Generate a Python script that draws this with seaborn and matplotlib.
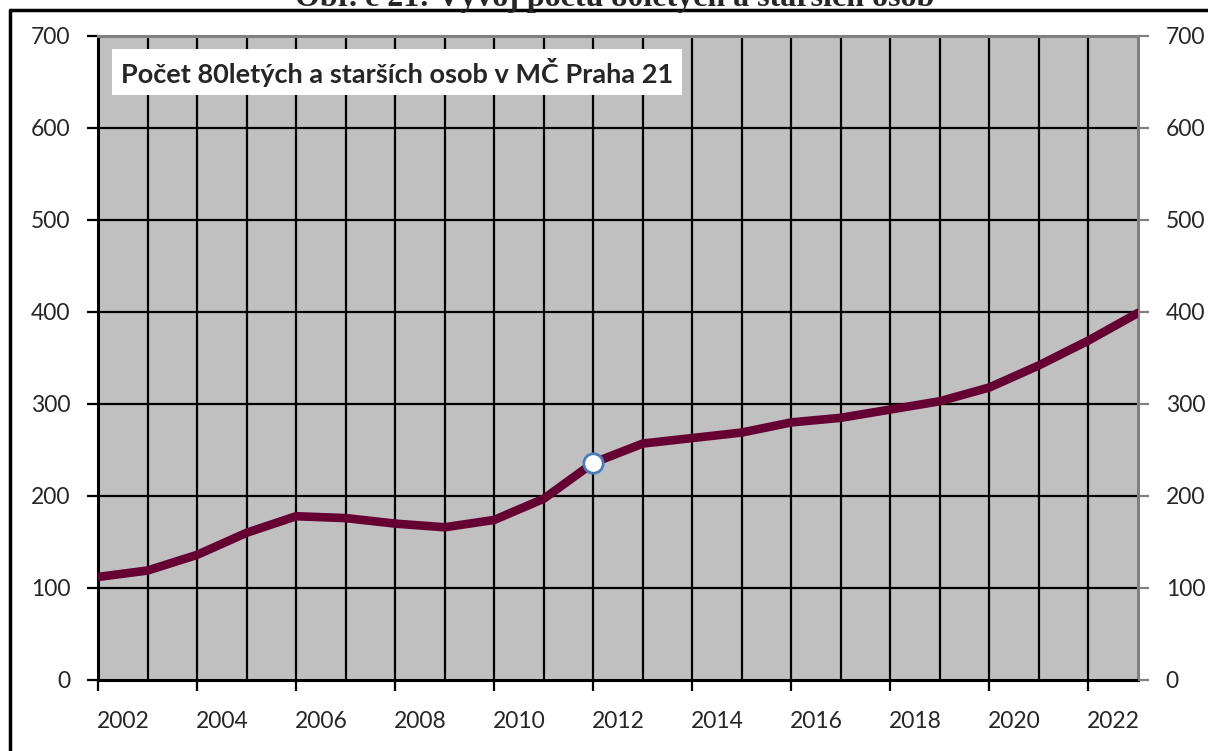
import matplotlib.pyplot as plt
from matplotlib.lines import Line2D
import seaborn as sns
import pandas as pd

years = list(range(2002, 2024))
persons = [112, 119, 136, 160, 178, 176, 170, 166, 174, 197, 236,
           257, 263, 269, 280, 285, 294, 303, 318, 342, 369, 399]
highlight_year = 2012
y_ticks = [0, 100, 200, 300, 400, 500, 600, 700]
label_years = list(range(2002, 2023, 2))

title = "Obr. č 21: Vývoj počtu 80letých a starších osob"
box_text = "Počet 80letých a starších osob v MČ Praha 21"

sns.set_style('white')
plt.rcParams['font.family'] = ['Lato', 'DejaVu Sans']

df = pd.DataFrame({"rok": years, "osoby": persons})

fig = plt.figure(figsize=(12.08, 7.51), dpi=100)
ax = fig.add_axes([98 / 1208, 71 / 751, 1040 / 1208, 644 / 751])
ax.set_facecolor('#C0C0C0')

# grid
for yr in years[1:-1]:
    ax.axvline(yr, color='black', lw=1.6, zorder=1)
for v in y_ticks[1:]:
    ax.axhline(v, color='black', lw=1.6, zorder=1)

sns.lineplot(data=df, x='rok', y='osoby', color='#660033', lw=6.2,
             ax=ax, zorder=3, solid_joinstyle='miter')
hl = df[df['rok'] == highlight_year]
ax.plot(hl['rok'], hl['osoby'], 'o', ms=14, mfc='white', mec='#4A7EBB',
        mew=2, zorder=4)

ax.set_xlim(years[0], years[-1])
ax.set_ylim(0, 700)
ax.set_xlabel('')
ax.set_ylabel('')

# x axis: tick marks on even years, labels between
ax.set_xticks(label_years)
ax.set_xticklabels([])
ax.set_xticks([y + 0.5 for y in label_years], minor=True)
ax.set_xticklabels([str(y) for y in label_years], minor=True, fontsize=16.5)
ax.tick_params(axis='x', which='major', direction='out', length=8, width=1.6,
               color='black', bottom=True)
ax.tick_params(axis='x', which='minor', length=0, pad=22)

ax.set_yticks(y_ticks)
ax.set_yticklabels([str(v) for v in y_ticks], fontsize=16.5)
ax.tick_params(axis='y', direction='out', length=8, width=1.6, color='black',
               left=True, pad=12)

for side in ['left', 'bottom']:
    ax.spines[side].set_color('black')
    ax.spines[side].set_linewidth(2.2)
for side in ['top', 'right']:
    ax.spines[side].set_color('#808080')
    ax.spines[side].set_linewidth(2.2)

ax2 = ax.twinx()
ax2.set_ylim(0, 700)
ax2.set_yticks(y_ticks)
ax2.set_yticklabels([str(v) for v in y_ticks], fontsize=16.5)
ax2.tick_params(axis='y', direction='out', length=8, width=1.6, color='#808080',
                right=True, pad=12)
for s in ax2.spines.values():
    s.set_visible(False)

ax.text(0.022, 0.944, box_text, transform=ax.transAxes, fontsize=19.5,
        fontweight='bold', va='center', ha='left', zorder=5,
        bbox=dict(facecolor='white', edgecolor='none', pad=6))

# outer frame and cut-off caption
fig.add_artist(Line2D([10 / 1208, 10 / 1208], [0, 1 - 10 / 751],
                      color='black', lw=2.5))
fig.add_artist(Line2D([10 / 1208, 1], [1 - 10 / 751, 1 - 10 / 751],
                      color='black', lw=2.5))
fig.text(615 / 1208, 1 + 1 / 751, title, ha='center', va='center',
         fontsize=23, fontweight='bold', family=['Liberation Serif'])

fig.savefig('out.png', dpi=100)
